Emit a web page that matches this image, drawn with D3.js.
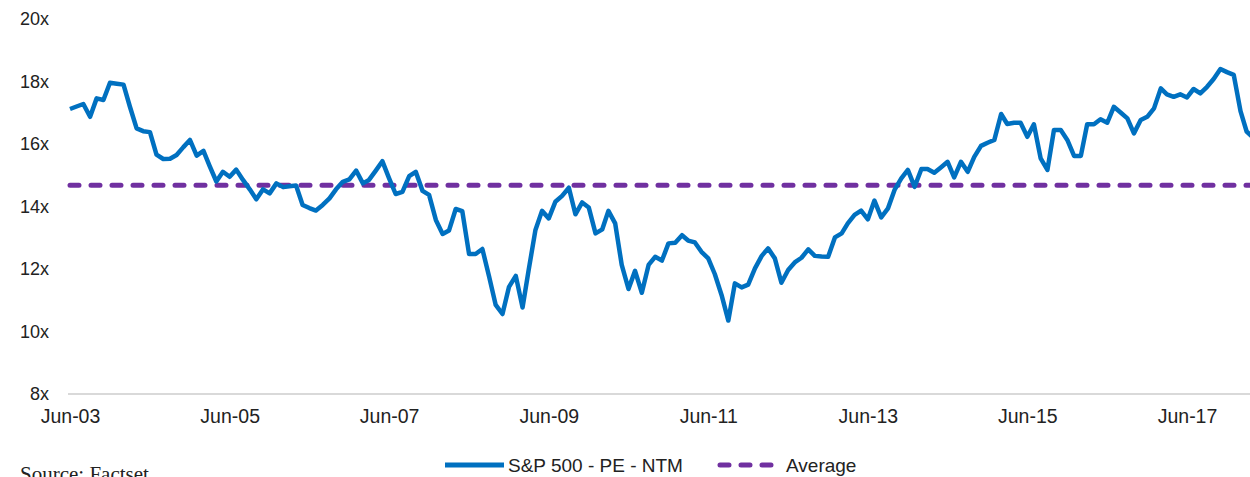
<!DOCTYPE html>
<html>
<head>
<meta charset="utf-8">
<script src="https://cdn.jsdelivr.net/npm/d3@7"></script>
<style>
  body { margin: 0; background: #fff; }
  text { font-family: "Liberation Sans", Arial, sans-serif; }
</style>
</head>
<body>
<script>
// monthly S&P 500 forward PE, starting Jun-03
var startMonth = "2003-06";
var peValues = [
  17.12, 17.2, 17.28, 16.87, 17.46, 17.41, 17.96, 17.93, 17.9, 17.2,
  16.5, 16.41, 16.38, 15.66, 15.52, 15.53, 15.65, 15.9, 16.13, 15.63,
  15.78, 15.3, 14.8, 15.11, 14.95, 15.18, 14.85, 14.55, 14.23, 14.55,
  14.42, 14.74, 14.62, 14.65, 14.67, 14.05, 13.95, 13.87, 14.05, 14.26,
  14.55, 14.79, 14.87, 15.15, 14.74, 14.85, 15.15, 15.45, 14.9, 14.4,
  14.47, 14.97, 15.11, 14.5, 14.37, 13.57, 13.12, 13.23, 13.92, 13.85,
  12.48, 12.48, 12.64, 11.75, 10.85, 10.56, 11.43, 11.78, 10.77, 11.97,
  13.25, 13.86, 13.62, 14.15, 14.34, 14.6, 13.75, 14.13, 13.97, 13.14,
  13.27, 13.86, 13.46, 12.13, 11.36, 11.94, 11.24, 12.13, 12.39, 12.27,
  12.82, 12.84, 13.08, 12.91, 12.85, 12.55, 12.34, 11.84, 11.17, 10.35,
  11.54, 11.41, 11.5, 12.02, 12.42, 12.66, 12.34, 11.56, 11.97, 12.21,
  12.36, 12.63, 12.42, 12.4, 12.39, 13.01, 13.14, 13.46, 13.73, 13.87,
  13.59, 14.19, 13.65, 13.94, 14.53, 14.9, 15.17, 14.63, 15.2, 15.2,
  15.08, 15.25, 15.43, 14.93, 15.43, 15.11, 15.59, 15.94, 16.04, 16.13,
  16.96, 16.64, 16.68, 16.68, 16.23, 16.63, 15.54, 15.17, 16.45, 16.45,
  16.13, 15.62, 15.62, 16.63, 16.63, 16.79, 16.68, 17.19, 17.01, 16.82,
  16.34, 16.77, 16.87, 17.14, 17.78, 17.59, 17.51, 17.59, 17.49, 17.76,
  17.62, 17.83, 18.08, 18.4, 18.3, 18.21, 17.05, 16.4, 16.2
];
var averagePE = 14.68;
var yTicks = [8, 10, 12, 14, 16, 18, 20];
var xTickLabels = ["Jun-03", "Jun-05", "Jun-07", "Jun-09", "Jun-11", "Jun-13", "Jun-15", "Jun-17"];
var seriesNames = ["S&P 500 - PE - NTM", "Average"];

var width = 1250, height = 477;
var blue = "#0070c0", purple = "#7030a0";

var parseMonth = d3.timeParse("%Y-%m");
var parseTick = d3.timeParse("%b-%y");
var start = parseMonth(startMonth);
var data = peValues.map(function(v, i) {
  return {date: d3.timeMonth.offset(start, i), pe: v};
});

var svg = d3.select("body").append("svg")
    .attr("width", width)
    .attr("height", height);

// set the ranges
var x = d3.scaleTime()
    .domain([parseTick("Jun-03"), parseTick("Jun-17")])
    .range([70, 1187]);
var y = d3.scaleLinear().domain([8, 20]).range([394, 19]);

// y labels (no axis line)
svg.append("g")
    .selectAll("text")
    .data(yTicks)
  .enter().append("text")
    .attr("x", 49)
    .attr("y", function(d) { return y(d); })
    .attr("dy", "0.35em")
    .attr("text-anchor", "end")
    .style("font-size", "18px")
    .style("fill", "#222")
    .text(function(d) { return d + "x"; });

// x axis
var xAxis = svg.append("g")
    .attr("transform", "translate(0,394)")
    .call(d3.axisBottom(x)
      .tickValues(xTickLabels.map(parseTick))
      .tickFormat(d3.timeFormat("%b-%y"))
      .tickSize(0)
      .tickPadding(15));
xAxis.select(".domain").remove();
xAxis.selectAll("text")
    .style("font-family", "Liberation Sans, Arial, sans-serif")
    .style("font-size", "19.5px")
    .style("fill", "#222");
svg.append("line")
    .attr("x1", 68).attr("x2", width)
    .attr("y1", 394).attr("y2", 394)
    .style("stroke", "#d9d9d9")
    .style("stroke-width", 2);

// average line
svg.append("line")
    .attr("x1", 70).attr("x2", width)
    .attr("y1", y(averagePE)).attr("y2", y(averagePE))
    .style("stroke", purple)
    .style("stroke-width", 5)
    .style("stroke-linecap", "round")
    .style("stroke-dasharray", "9,12");

// PE line
var valueline = d3.line()
    .x(function(d) { return x(d.date); })
    .y(function(d) { return y(d.pe); });
svg.append("path")
    .data([data])
    .style("fill", "none")
    .style("stroke", blue)
    .style("stroke-width", 4.5)
    .style("stroke-linejoin", "round")
    .attr("d", valueline);

// legend
var lg = svg.append("g").attr("transform", "translate(0,465)");
lg.append("line")
    .attr("x1", 445).attr("x2", 504)
    .style("stroke", blue).style("stroke-width", 5);
lg.append("text")
    .attr("x", 508).attr("dy", "0.35em")
    .style("font-size", "19px").style("fill", "#222")
    .text(seriesNames[0]);
lg.append("line")
    .attr("x1", 720).attr("x2", 776)
    .style("stroke", purple).style("stroke-width", 5)
    .style("stroke-linecap", "round")
    .style("stroke-dasharray", "9,12");
lg.append("text")
    .attr("x", 786).attr("dy", "0.35em")
    .style("font-size", "19px").style("fill", "#222")
    .text(seriesNames[1]);

// source note, cut off by the bottom edge as in the original
svg.append("text")
    .attr("x", 20).attr("y", 481)
    .style("font-family", "Liberation Serif, Times New Roman, serif")
    .style("font-size", "21px")
    .style("fill", "#222")
    .text("Source: Factset");
</script>
</body>
</html>
